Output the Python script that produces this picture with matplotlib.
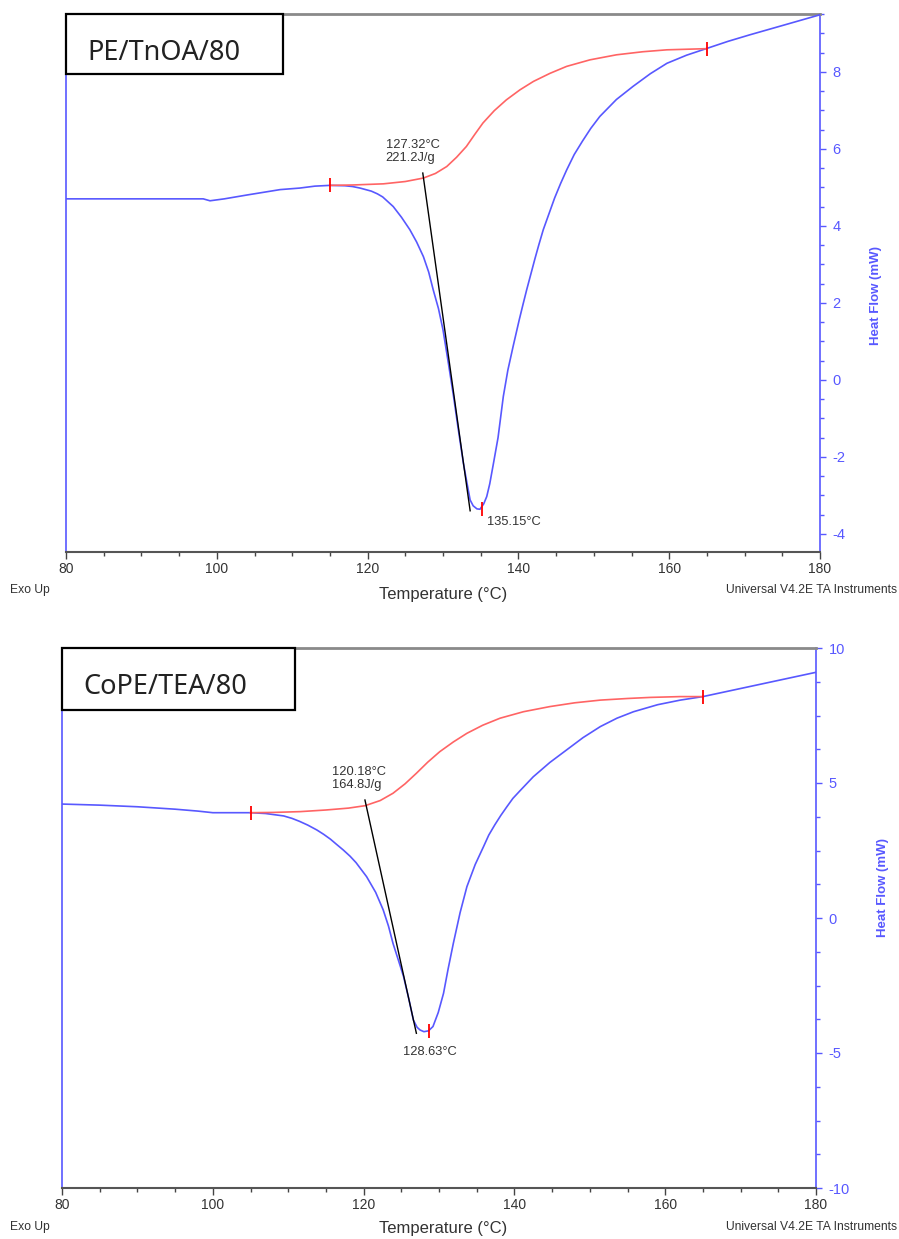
import matplotlib
matplotlib.use("Agg")
import matplotlib.pyplot as plt
import matplotlib.ticker as ticker
from matplotlib.patches import Rectangle

plt.rcParams["font.family"] = ["Liberation Sans", "DejaVu Sans"]
plt.rcParams["axes.unicode_minus"] = False

BLUE = "#5858ff"
RED = "#ff6464"
TXT = "#333333"

# --- PE/TnOA/80 (top) ---
pe_temp = [80, 85, 90, 95, 98.2, 99.1, 101, 104, 108.4, 111, 113, 115, 117, 118, 119,
           120.5, 121.3, 122, 123.4, 124.5, 125.6, 126.5, 127.4, 128.1, 128.7, 129.4,
           130.0, 130.7, 131.4, 132.0, 132.7, 133.2, 133.6, 134.0, 134.5, 134.9,
           135.4, 135.8, 136.2, 136.7, 137.3, 138.0, 138.6, 139.3, 140.1, 140.6,
           141.1, 142.2, 142.7, 143.3, 144.8, 145.6, 146.4, 147.4, 148.5, 149.6,
           150.8, 152, 153, 155.2, 157.5, 159.7, 162.3, 164.9, 167.8, 170.7, 175, 180]
pe_flow = [4.70, 4.70, 4.70, 4.70, 4.70, 4.65, 4.70, 4.80, 4.94, 4.98, 5.03, 5.05,
           5.04, 5.02, 4.98, 4.90, 4.83, 4.75, 4.50, 4.22, 3.90, 3.58, 3.20, 2.80,
           2.34, 1.85, 1.30, 0.45, -0.43, -1.25, -2.16, -2.70, -3.12, -3.27, -3.35,
           -3.36, -3.22, -3.03, -2.70, -2.16, -1.50, -0.43, 0.25, 0.87, 1.55, 1.95,
           2.34, 3.15, 3.50, 3.90, 4.72, 5.10, 5.45, 5.85, 6.20, 6.53, 6.84, 7.08,
           7.28, 7.62, 7.95, 8.22, 8.43, 8.60, 8.79, 8.96, 9.20, 9.48]
pe_base_temp = [115, 118, 122.1, 125, 127.4, 129, 130.5, 131.8, 133.1, 134.2, 135.3,
                136.8, 138.4, 140.2, 142.0, 144.2, 146.4, 149.5, 153.0, 156.5,
                159.7, 165]
pe_base_flow = [5.05, 5.06, 5.09, 5.15, 5.24, 5.36, 5.54, 5.78, 6.06, 6.37, 6.67,
                6.99, 7.27, 7.53, 7.75, 7.96, 8.14, 8.31, 8.44, 8.52, 8.57, 8.60]
pe_limits = [(115, 5.05), (165, 8.60), (135.15, -3.36)]
pe_tangent = [(127.32, 5.37), (133.6, -3.40)]

# --- CoPE/TEA/80 (bottom) ---
co_temp = [80, 85, 90, 95, 98, 100, 102.5, 105, 107, 109.4, 110.5, 111.5, 112.6,
           113.8, 114.7, 115.6, 116.4, 117.3, 118.2, 119, 120.4, 121.6, 122.6, 123.3,
           123.9, 124.6, 125.3, 126.0, 126.6, 127.1, 127.5, 128.0, 128.6, 129.2,
           129.9, 130.6, 131.2, 131.9, 132.8, 133.7, 134.8, 135.9, 136.6, 137.4,
           138.2, 139.0, 139.8, 140.7, 142.5, 144.7, 146.9, 149.1, 151.4, 153.6,
           155.8, 159, 162, 165, 170, 175, 180]
co_flow = [4.22, 4.18, 4.12, 4.03, 3.96, 3.90, 3.90, 3.90, 3.87, 3.78, 3.69, 3.58,
           3.44, 3.26, 3.10, 2.92, 2.73, 2.52, 2.29, 2.05, 1.53, 0.95, 0.30, -0.30,
           -0.94, -1.55, -2.17, -3.00, -3.78, -4.05, -4.15, -4.21, -4.18, -4.02,
           -3.50, -2.79, -1.90, -0.94, 0.20, 1.16, 1.98, 2.64, 3.07, 3.45, 3.80,
           4.12, 4.43, 4.70, 5.23, 5.76, 6.22, 6.68, 7.09, 7.40, 7.64, 7.90, 8.07,
           8.20, 8.50, 8.80, 9.10]
co_base_temp = [105, 108, 111.6, 115, 118, 120.2, 122.2, 123.9, 125.5, 127.0, 128.5,
                130.1, 131.9, 133.7, 135.8, 138.1, 141.2, 144.7, 148, 151.4, 155,
                158, 162, 165]
co_base_flow = [3.90, 3.91, 3.94, 4.00, 4.07, 4.16, 4.35, 4.62, 4.97, 5.36, 5.77,
                6.16, 6.52, 6.84, 7.14, 7.40, 7.64, 7.83, 7.97, 8.07, 8.13, 8.17,
                8.20, 8.20]
co_limits = [(105, 3.90), (165, 8.20), (128.63, -4.20)]
co_tangent = [(120.18, 4.37), (127.0, -4.27)]

W, H = 899, 1239


def px_rect(x0, y0, x1, y1):
    return [x0 / W, 1 - y1 / H, (x1 - x0) / W, (y1 - y0) / H]


def draw_panel(ax, temp, flow, btemp, bflow, limits, tangent, ylim, ymaj, ymin,
               onset_txt, onset_pos, peak_txt, peak_pos, label_xy):
    ax.plot(temp, flow, color=BLUE, lw=1.2, zorder=3)
    ax.plot(btemp, bflow, color=RED, lw=1.2, zorder=3)
    tx, ty = zip(*tangent)
    ax.plot(tx, ty, color="black", lw=1.0, zorder=4)
    lx, ly = zip(*limits)
    ax.plot(lx, ly, ls="none", marker="|", ms=9.5, mew=1.3, color="red", zorder=5)

    ax.text(*onset_pos, onset_txt, fontsize=9.3, color=TXT, ha="left", va="top",
            linespacing=1.05)
    ax.text(*peak_pos, peak_txt, fontsize=9.3, color=TXT, ha="left", va="center")

    ax.set_xlim(80, 180)
    ax.set_ylim(*ylim)
    ax.xaxis.set_major_locator(ticker.MultipleLocator(20))
    ax.xaxis.set_minor_locator(ticker.MultipleLocator(5))
    ax.yaxis.set_major_locator(ticker.MultipleLocator(ymaj))
    ax.yaxis.set_minor_locator(ticker.MultipleLocator(ymin))
    ax.yaxis.tick_right()
    ax.yaxis.set_label_position("right")
    ax.yaxis.set_major_formatter(ticker.FuncFormatter(lambda v, p: "%d" % round(v)))

    ax.tick_params(axis="x", which="major", length=5, width=1, color="#444444",
                   labelcolor=TXT, labelsize=10, pad=2)
    ax.tick_params(axis="x", which="minor", length=3, width=1, color="#444444")
    ax.tick_params(axis="y", which="major", length=4, width=1, color=BLUE,
                   labelcolor=BLUE, labelsize=10.5, pad=5)
    ax.tick_params(axis="y", which="minor", length=3, width=1, color=BLUE)

    ax.spines["top"].set_color("#8a8a8a")
    ax.spines["top"].set_linewidth(2)
    ax.spines["bottom"].set_color("#555555")
    ax.spines["bottom"].set_linewidth(1.5)
    ax.spines["left"].set_color(BLUE)
    ax.spines["right"].set_color(BLUE)
    ax.spines["left"].set_linewidth(1.2)
    ax.spines["right"].set_linewidth(1.2)

    ax.set_ylabel("Heat Flow (mW)", color=BLUE, fontsize=9.5, fontweight="bold")
    ax.yaxis.set_label_coords(*label_xy)


fig = plt.figure(figsize=(W / 100, H / 100), dpi=100)

ax1 = fig.add_axes(px_rect(66, 14, 820, 552))
draw_panel(ax1, pe_temp, pe_flow, pe_base_temp, pe_base_flow, pe_limits, pe_tangent,
           (-4.47, 9.5), 2, 0.5, "127.32°C\n221.2J/g", (122.4, 6.25),
           "135.15°C", (135.8, -3.69), (1.066, 0.476))

ax2 = fig.add_axes(px_rect(62, 648, 816, 1188))
draw_panel(ax2, co_temp, co_flow, co_base_temp, co_base_flow, co_limits, co_tangent,
           (-10, 10), 5, 1.25, "120.18°C\n164.8J/g", (115.8, 5.62),
           "128.63°C", (125.2, -4.95), (1.081, 0.556))

# sample name boxes
for (x0, y0, x1, y1), name in [((66, 14, 283, 74), "PE/TnOA/80"),
                               ((62, 648, 295, 710), "CoPE/TEA/80")]:
    fig.patches.append(Rectangle((x0 / W, 1 - y1 / H), (x1 - x0) / W, (y1 - y0) / H,
                                 transform=fig.transFigure, facecolor="white",
                                 edgecolor="black", lw=1.6, zorder=10))
    fig.text((x0 + 21) / W, 1 - (y0 + 39) / H, name, family=["Noto Sans", "DejaVu Sans"],
             fontsize=19.5, color="#222222", ha="left", va="center", zorder=11)

# footer texts
for y_side, y_mid in [(590, 595), (1227, 1229)]:
    fig.text(10 / W, 1 - y_side / H, "Exo Up", fontsize=8.7, color=TXT,
             ha="left", va="center")
    fig.text(443 / W, 1 - y_mid / H, "Temperature (°C)", fontsize=12, color=TXT,
             ha="center", va="center")
    fig.text(897 / W, 1 - y_side / H, "Universal V4.2E TA Instruments", fontsize=8.7,
             color=TXT, ha="right", va="center")

fig.savefig("out.png", dpi=100)
